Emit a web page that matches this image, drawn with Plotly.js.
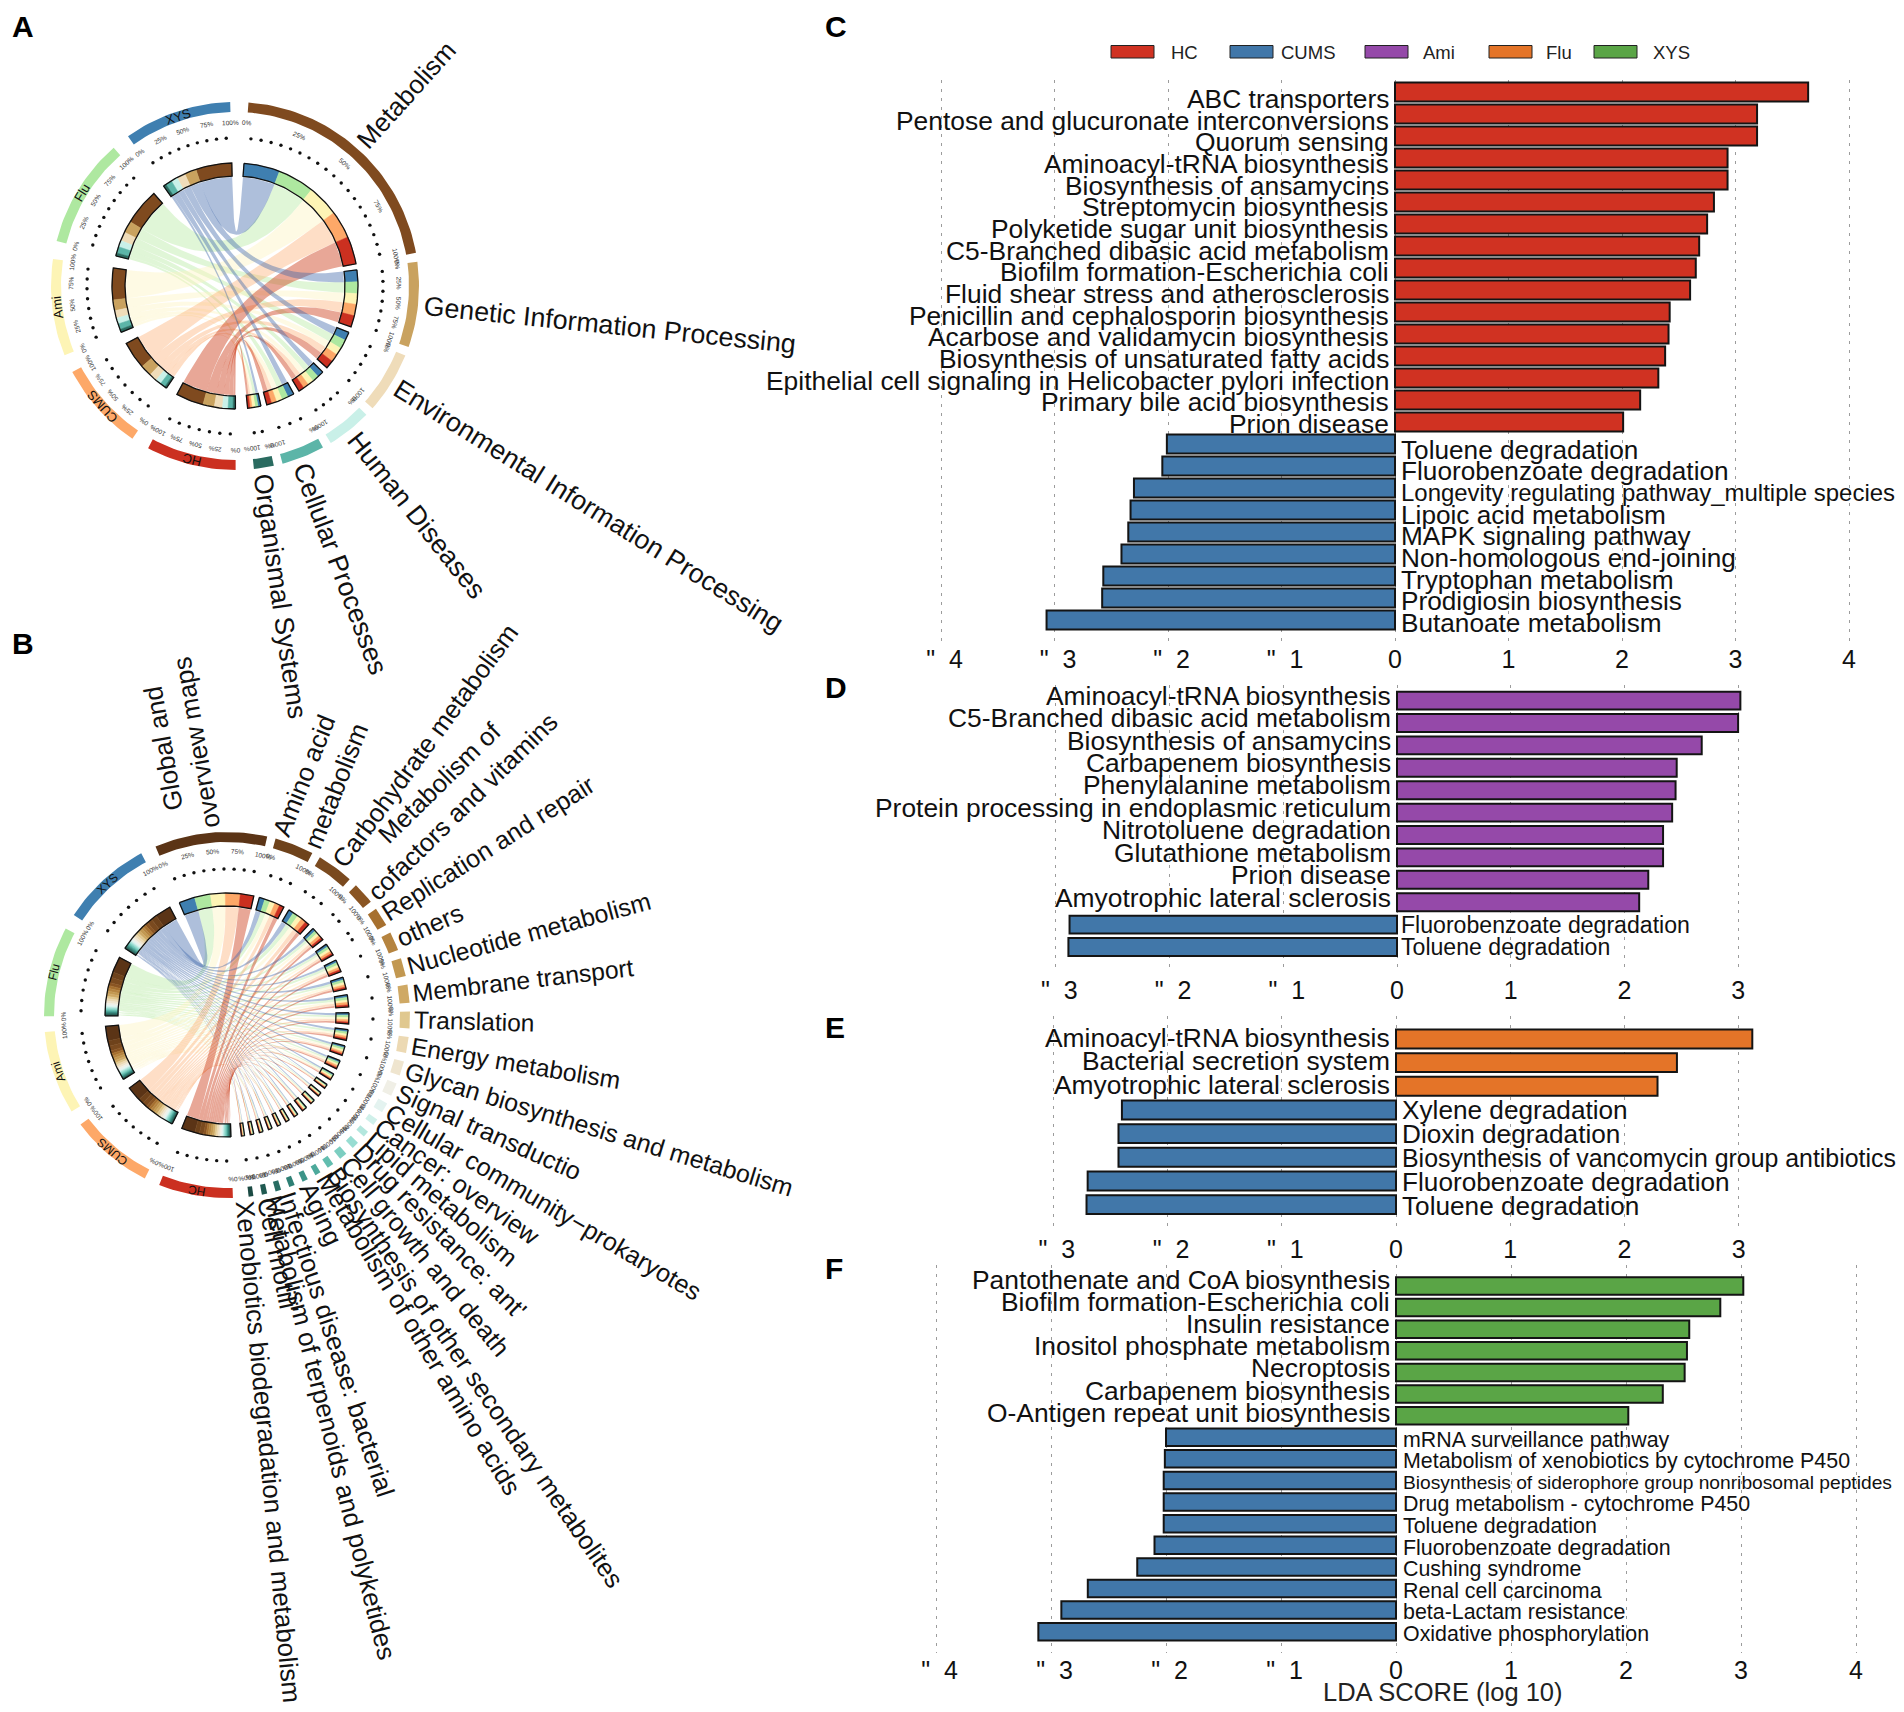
<!DOCTYPE html>
<html><head><meta charset="utf-8">
<script src="https://cdn.plot.ly/plotly-3.0.1.min.js"></script>
<style>html,body{margin:0;padding:0;background:#fff}</style></head>
<body><div id="chart" style="width:1904px;height:1712px"></div>
<script>
const W = 1904, H = 1712;
const FONT = '"Liberation Sans", Arial, sans-serif';

// ---------- group names & colours
const groupNames = ['XYS', 'Flu', 'Ami', 'CUMS', 'HC'];
const groupColors = ['#3f7fb0', '#aee8a0', '#fdf4b5', '#fda868', '#cb3020'];
const chordColors = ['rgba(63,102,170,0.42)', 'rgba(174,232,150,0.38)', 'rgba(253,244,190,0.42)', 'rgba(253,168,104,0.38)', 'rgba(203,60,25,0.45)'];
const legendNames = ['HC', 'CUMS', 'Ami', 'Flu', 'XYS'];
const legendColors = ['#d03222', '#4177a9', '#9549a9', '#e47428', '#5aa546'];

// ---------- panel A
const pathwaysA = ['Metabolism', 'Genetic Information Processing', 'Environmental Information Processing', 'Human Diseases', 'Cellular Processes', 'Organismal Systems'];
const pathColorsA = ['#7f4a1f', '#c9a25f', '#efdcb9', '#c9f0e8', '#5cb5a8', '#2a6b60'];
const matrixA = [
  [16.8, 17, 14.8, 12.9, 12.9],
  [5.5, 5.5, 5, 5.3, 5.3],
  [4, 4.2, 3.5, 3.7, 3.8],
  [3, 3, 2.8, 2.6, 2.6],
  [3, 3, 2.7, 2.4, 2.3],
  [1.3, 1.4, 1.4, 1.0, 1.1]
];

// ---------- panel B
const pathwaysB = ['Global and<br>overview maps', 'Amino acid<br>metabolism', 'Carbohydrate metabolism', 'Metabolism of<br>cofactors and vitamins', 'Replication and repair', 'others', 'Nucleotide metabolism', 'Membrane transport', 'Translation', 'Energy metabolism', 'Glycan biosynthesis and metabolism', 'Signal transductio', 'Cellular community\u2212prokaryotes', 'Cancer: overview', 'Lipid metabolism', "Drug resistance: ant'", 'Cell growth and death', 'Biosynthesis of other secondary metabolites', 'Metabolism of other amino acids', 'Aging', 'Infectious disease: bacterial', 'Metabolism of terpenoids and polyketides', "Cell motili'", 'Xenobiotics biodegradation and metabolism'];
const pathColorsB = ['#5b3416', '#6e421b', '#7a4a1f', '#8a5523', '#a6702f', '#b58440', '#c29851', '#cfa965', '#e0c88f', '#ecd9b3', '#efe5cf', '#f0efe6', '#e4f3f0', '#d0f0ea', '#b4e7de', '#98ddd2', '#7ccec1', '#62bdaf', '#4da99b', '#3b9488', '#2e7f74', '#276c62', '#205a51', '#1b4a43'];
const matrixB = [
  [7.6, 7.6, 7.0, 7.1, 6.4], [2.7, 2.6, 2.5, 2.4, 2.2], [2.5, 2.5, 2.3, 2.3, 2.0], [1.5, 1.5, 1.4, 1.4, 1.2],
  [1.3, 1.3, 1.2, 1.2, 1.0], [1.2, 1.3, 1.2, 1.2, 1.1], [1.3, 1.2, 1.2, 1.1, 1.0], [1.2, 1.3, 1.1, 1.2, 1.0],
  [1.2, 1.1, 1.0, 1.1, 0.9], [1.1, 1.1, 1.0, 1.0, 0.9], [1.0, 1.0, 0.9, 0.9, 0.8], [0.9, 0.9, 0.8, 0.9, 0.7],
  [0.7, 0.7, 0.7, 0.6, 0.5], [0.5, 0.4, 0.4, 0.4, 0.4], [0.4, 0.4, 0.4, 0.4, 0.4], [0.5, 0.5, 0.5, 0.4, 0.4],
  [0.5, 0.5, 0.5, 0.5, 0.5], [0.5, 0.4, 0.4, 0.4, 0.4], [0.4, 0.4, 0.4, 0.3, 0.3], [0.4, 0.4, 0.3, 0.4, 0.3],
  [0.4, 0.4, 0.4, 0.3, 0.3], [0.4, 0.4, 0.3, 0.4, 0.3], [0.4, 0.4, 0.3, 0.3, 0.3], [0.3, 0.3, 0.3, 0.3, 0.3]
];

// ---------- panel C
const hcNamesC = ['ABC transporters', 'Pentose and glucuronate interconversions', 'Quorum sensing', 'Aminoacyl-tRNA biosynthesis', 'Biosynthesis of ansamycins', 'Streptomycin biosynthesis', 'Polyketide sugar unit biosynthesis', 'C5-Branched dibasic acid metabolism', 'Biofilm formation-Escherichia coli', 'Fluid shear stress and atherosclerosis', 'Penicillin and cephalosporin biosynthesis', 'Acarbose and validamycin biosynthesis', 'Biosynthesis of unsaturated fatty acids', 'Epithelial cell signaling in Helicobacter pylori infection', 'Primary bile acid biosynthesis', 'Prion disease'];
const hcScoresC = [3.64, 3.19, 3.19, 2.93, 2.93, 2.81, 2.75, 2.68, 2.65, 2.60, 2.42, 2.41, 2.38, 2.32, 2.16, 2.01];
const cumsNamesC = ['Toluene degradation', 'Fluorobenzoate degradation', 'Longevity regulating pathway_multiple species', 'Lipoic acid metabolism', 'MAPK signaling pathway', 'Non-homologous end-joining', 'Tryptophan metabolism', 'Prodigiosin biosynthesis', 'Butanoate metabolism'];
const cumsScoresC = [-2.01, -2.05, -2.30, -2.33, -2.35, -2.41, -2.57, -2.58, -3.07];
// ---------- panel D
const amiNamesD = ['Aminoacyl-tRNA biosynthesis', 'C5-Branched dibasic acid metabolism', 'Biosynthesis of ansamycins', 'Carbapenem biosynthesis', 'Phenylalanine metabolism', 'Protein processing in endoplasmic reticulum', 'Nitrotoluene degradation', 'Glutathione metabolism', 'Prion disease', 'Amyotrophic lateral sclerosis'];
const amiScoresD = [3.02, 3.00, 2.68, 2.46, 2.45, 2.42, 2.34, 2.34, 2.21, 2.13];
const cumsNamesD = ['Fluorobenzoate degradation', 'Toluene degradation'];
const cumsScoresD = [-2.88, -2.89];
// ---------- panel E
const fluNamesE = ['Aminoacyl-tRNA biosynthesis', 'Bacterial secretion system', 'Amyotrophic lateral sclerosis'];
const fluScoresE = [3.12, 2.46, 2.29];
const cumsNamesE = ['Xylene degradation', 'Dioxin degradation', 'Biosynthesis of vancomycin group antibiotics', 'Fluorobenzoate degradation', 'Toluene degradation'];
const cumsScoresE = [-2.40, -2.43, -2.43, -2.70, -2.71];
// ---------- panel F
const xysNamesF = ['Pantothenate and CoA biosynthesis', 'Biofilm formation-Escherichia coli', 'Insulin resistance', 'Inositol phosphate metabolism', 'Necroptosis', 'Carbapenem biosynthesis', 'O-Antigen repeat unit biosynthesis'];
const xysScoresF = [3.02, 2.82, 2.55, 2.53, 2.51, 2.32, 2.02];
const cumsNamesF = ['mRNA surveillance pathway', 'Metabolism of xenobiotics by cytochrome P450', 'Biosynthesis of siderophore group nonribosomal peptides', 'Drug metabolism - cytochrome P450', 'Toluene degradation', 'Fluorobenzoate degradation', 'Cushing syndrome', 'Renal cell carcinoma', 'beta-Lactam resistance', 'Oxidative phosphorylation'];
const cumsScoresF = [-2.00, -2.01, -2.02, -2.02, -2.02, -2.10, -2.25, -2.68, -2.91, -3.11];

const ticks4 = [-4, -3, -2, -1, 0, 1, 2, 3, 4];
const ticks3 = [-3, -2, -1, 0, 1, 2, 3];
const tickText = v => v < 0 ? '\u00a0"\u00a0\u00a0' + (-v) : String(v);
const fitWidths = {
  'Longevity regulating pathway_multiple species': 494,
  'Biosynthesis of vancomycin group antibiotics': 494,
  'Biosynthesis of siderophore group nonribosomal peptides': 489
};

const traces = [], annotations = [], shapes = [];
const layout = {
  width: W, height: H, margin: {l: 0, r: 0, t: 0, b: 0}, paper_bgcolor: '#fff', plot_bgcolor: 'rgba(0,0,0,0)',
  showlegend: false, barmode: 'overlay', font: {family: FONT, color: '#111'}, hovermode: false
};

function xDom(a, b) { return [a / W, b / W]; }
function yDom(t, b) { return [1 - b / H, 1 - t / H]; }

const ctx = document.createElement('canvas').getContext('2d');
function textWidth(t, size) {
  ctx.font = size + 'px "Liberation Sans"';
  return Math.max.apply(null, t.split('<br>').map(s => ctx.measureText(s).width));
}

// ---------- bar panels
function barPanel(id, o) {
  const sfx = id === 1 ? '' : String(id);
  const cats = o.posNames.concat(o.negNames);
  const n = cats.length, np = o.posNames.length, nn = o.negNames.length;
  const half = o.half;
  layout['xaxis' + sfx] = {
    anchor: 'y' + sfx, domain: xDom(o.zero - half * o.unit, o.zero + half * o.unit), range: [-half, half], fixedrange: true,
    tickmode: 'array', tickvals: o.ticks, ticktext: o.ticks.map(tickText), tickfont: {size: 25, family: FONT, color: '#111'},
    showgrid: true, gridcolor: '#9c9c9c', griddash: '3px,6px', gridwidth: 1, zeroline: false, showline: false, ticks: ''
  };
  const c0 = o.first, s = (o.last - o.first) / (n - 1);
  layout['yaxis' + sfx] = {
    anchor: 'x' + sfx, domain: yDom(o.top, o.bottom), type: 'category', categoryorder: 'array', categoryarray: cats,
    range: [(o.bottom - c0) / s, (o.top - c0) / s], visible: false, fixedrange: true
  };
  traces.push({type: 'bar', orientation: 'h', x: o.posScores, y: o.posNames, width: o.barw, xaxis: 'x' + sfx, yaxis: 'y' + sfx,
    marker: {color: o.color, line: {color: '#141414', width: 2}}, hoverinfo: 'skip'});
  traces.push({type: 'bar', orientation: 'h', x: o.negScores, y: o.negNames, width: o.barw, xaxis: 'x' + sfx, yaxis: 'y' + sfx,
    marker: {color: '#4177a9', line: {color: '#141414', width: 2}}, hoverinfo: 'skip'});
  cats.forEach((c, i) => {
    const isPos = i < np;
    const rng = isPos ? o.posShift : o.negShift;
    const t = isPos ? i / (np - 1) : (i - np) / (nn - 1);
    const shift = rng[0] + (rng[1] - rng[0]) * t;
    let size = isPos ? o.fontL : o.fontR;
    if (!isPos && fitWidths[c]) size = size * fitWidths[c] / textWidth(c, size);
    annotations.push({
      xref: 'x' + sfx, yref: 'y' + sfx, x: 0, y: c, text: c, showarrow: false, borderpad: 0,
      xanchor: isPos ? 'right' : 'left', xshift: isPos ? -5 : o.rightShift, yshift: -shift, yanchor: 'middle',
      font: {size: size, family: FONT, color: '#111'}
    });
  });
}
barPanel(1, {zero: 1395, unit: 113.5, half: 4.25, ticks: ticks4, top: 80, bottom: 642, first: 92, last: 620, barw: 0.86, rightShift: 5,
  posNames: hcNamesC, posScores: hcScoresC, negNames: cumsNamesC, negScores: cumsScoresC, color: '#d03222', fontL: 26.4, fontR: 26.2, posShift: [7, 2], negShift: [5.5, 3]});
barPanel(2, {zero: 1397, unit: 113.7, half: 3.2, ticks: ticks3, top: 685, bottom: 973, first: 700.6, last: 947, barw: 0.8, rightShift: 3,
  posNames: amiNamesD, posScores: amiScoresD, negNames: cumsNamesD, negScores: cumsScoresD, color: '#9549a9', fontL: 26.4, fontR: 23.1, posShift: [-5, -4.5], negShift: [0.8, 0]});
barPanel(3, {zero: 1396, unit: 114.2, half: 3.2, ticks: ticks3, top: 1016, bottom: 1232, first: 1039, last: 1204.6, barw: 0.8, rightShift: 5,
  posNames: fluNamesE, posScores: fluScoresE, negNames: cumsNamesE, negScores: cumsScoresE, color: '#e47428', fontL: 26.4, fontR: 26.2, posShift: [-1, -1.5], negShift: [0.5, 1]});
barPanel(4, {zero: 1396, unit: 115, half: 4.2, ticks: ticks4, top: 1265, bottom: 1653, first: 1286, last: 1631.7, barw: 0.81, rightShift: 6,
  posNames: xysNamesF, posScores: xysScoresF, negNames: cumsNamesF, negScores: cumsScoresF, color: '#5aa546', fontL: 26.4, fontR: 21.4, posShift: [-6, -3], negShift: [2.5, 2]});

annotations.push({xref: 'paper', yref: 'paper', x: 1443 / W, y: 1 - 1692 / H, text: 'LDA SCORE (log 10)', showarrow: false,
  xanchor: 'center', yanchor: 'middle', font: {size: 25.5, family: FONT, color: '#222'}});

// ---------- legend
const legendBoxX = [1111, 1230, 1365, 1489, 1594];
const legendTextX = [1169, 1279, 1421, 1544, 1651];
legendNames.forEach((nm, i) => {
  shapes.push({type: 'rect', xref: 'paper', yref: 'paper', x0: legendBoxX[i] / W, x1: (legendBoxX[i] + 43) / W, y0: 1 - 58 / H, y1: 1 - 45.5 / H,
    fillcolor: legendColors[i], line: {color: '#222', width: 1}});
  annotations.push({xref: 'paper', yref: 'paper', x: legendTextX[i] / W, y: 1 - 52 / H, text: nm, showarrow: false, xanchor: 'left', yanchor: 'middle',
    font: {size: 18.5, family: FONT, color: '#222'}});
});

// ---------- panel letters
[['A', 10, 27], ['B', 10, 644], ['C', 823, 27], ['D', 823, 688], ['E', 823, 1027], ['F', 823, 1268]].forEach(p => {
  annotations.push({xref: 'paper', yref: 'paper', x: p[1] / W, y: 1 - p[2] / H, text: '<b>' + p[0] + '</b>', showarrow: false, xanchor: 'left', yanchor: 'middle',
    font: {size: 30, family: FONT, color: '#000'}});
});

// ---------- chord panels
const rad = d => d * Math.PI / 180;
const polar = (r, th) => [r * Math.sin(rad(th)), r * Math.cos(rad(th))];
function arc(r, a, b) {
  const n = Math.max(2, Math.ceil(Math.abs(b - a) / 1.5) + 1), pts = [];
  for (let i = 0; i < n; i++) pts.push(polar(r, a + (b - a) * i / (n - 1)));
  return pts;
}
function bez(p0, p2, n) {
  const pts = [];
  for (let i = 1; i < n; i++) {
    const t = i / n, u = 1 - t;
    pts.push([u * u * p0[0] + t * t * p2[0], u * u * p0[1] + t * t * p2[1]]);
  }
  return pts;
}
function normAngle(a) { a = ((a % 360) + 360) % 360; return a > 180 ? a - 360 : a; }

function circos(sfx, o) {
  const {cx, cy, paths, pathColors, matrix, start, gapS, gapL} = o;
  layout['xaxis' + sfx] = {domain: xDom(cx - 200, cx + 200), range: [-200, 200], visible: false, fixedrange: true, anchor: 'y' + sfx};
  layout['yaxis' + sfx] = {domain: yDom(cy - 200, cy + 200), range: [-200, 200], visible: false, fixedrange: true, anchor: 'x' + sfx};
  const np = paths.length, ng = groupNames.length;
  const pathTot = matrix.map(r => r.reduce((a, b) => a + b, 0));
  const groupTot = groupNames.map((_, j) => matrix.reduce((a, r) => a + r[j], 0));
  const total = pathTot.reduce((a, b) => a + b, 0) + groupTot.reduce((a, b) => a + b, 0);
  const k = (360 - ((np - 1) * gapS + 6 * gapL)) / total;
  const add = (pts, col, lw) => traces.push({
    type: 'scatter', mode: 'lines', x: pts.map(p => p[0]), y: pts.map(p => p[1]), xaxis: 'x' + sfx, yaxis: 'y' + sfx,
    fill: 'toself', fillcolor: col, line: {width: lw || 0, color: col}, hoverinfo: 'skip'});

  const sectors = [], pathSeg = [], groupSeg = matrix.map(() => []);
  let th = start;
  paths.forEach((nm, i) => {
    const s = th; pathSeg[i] = [];
    matrix[i].forEach((v, j) => { pathSeg[i][j] = [th, th + v * k]; th += v * k; });
    sectors.push({label: nm, color: pathColors[i], a: s, b: th, kind: 'path'});
    th += i < np - 1 ? gapS : gapL;
  });
  for (let j = ng - 1; j >= 0; j--) {
    const s = th;
    for (let i = np - 1; i >= 0; i--) { groupSeg[i][j] = [th, th + matrix[i][j] * k]; th += matrix[i][j] * k; }
    sectors.push({label: groupNames[j], color: groupColors[j], a: s, b: th, kind: 'group'});
    th += gapL;
  }

  // chords
  const Rc = o.rIn - 1;
  [1, 2, 3, 4, 0].forEach(j => {
    for (let i = 0; i < np; i++) {
      const A = pathSeg[i][j], G = groupSeg[i][j];
      const a1 = arc(Rc, A[0], A[1]), g1 = arc(Rc, G[0], G[1]);
      const pts = a1.concat(bez(a1[a1.length - 1], g1[0], 24), g1, bez(g1[g1.length - 1], a1[0], 24));
      pts.push(a1[0]);
      add(pts, chordColors[j]);
    }
  });
  // inner ring cells
  const cell = (a, b, r0, r1) => { const p = arc(r1, a, b).concat(arc(r0, b, a)); p.push(p[0]); return p; };
  for (let i = 0; i < np; i++) for (let j = 0; j < ng; j++) {
    add(cell(pathSeg[i][j][0], pathSeg[i][j][1], o.rIn, o.rIn + o.thick), groupColors[j], 0.5);
    add(cell(groupSeg[i][j][0], groupSeg[i][j][1], o.rIn, o.rIn + o.thick), pathColors[i], 0.5);
  }
  // outlines, outer ring, dots, tick texts, names
  const dotsX = [], dotsY = [];
  sectors.forEach(sec => {
    const pts = cell(sec.a, sec.b, o.rIn, o.rIn + o.thick);
    traces.push({type: 'scatter', mode: 'lines', x: pts.map(p => p[0]), y: pts.map(p => p[1]), xaxis: 'x' + sfx, yaxis: 'y' + sfx,
      line: {color: '#111', width: 1.3}, hoverinfo: 'skip'});
    add(cell(sec.a, sec.b, o.rOut - 10, o.rOut), sec.color);
    const span = sec.b - sec.a;
    const nd = Math.max(1, Math.round(span / 4));
    for (let d = 0; d < nd; d++) { const p = polar(o.rDot, sec.a + span * (d + 0.5) / nd); dotsX.push(p[0]); dotsY.push(p[1]); }
    const fr = span >= o.fiveTickSpan ? [0, 0.25, 0.5, 0.75, 1] : [0, 1];
    fr.forEach(f => {
      const t = sec.a + span * f, p = polar(o.rTick, t);
      annotations.push({xref: 'paper', yref: 'paper', x: (cx + p[0]) / W, y: 1 - (cy - p[1]) / H, text: Math.round(f * 100) + '%', showarrow: false,
        textangle: normAngle(t), xanchor: 'center', yanchor: 'middle', borderpad: 0, font: {size: 6.5, family: FONT, color: '#333'}});
    });
    let mid = (sec.a + sec.b) / 2;
    if (sec.kind === 'group') {
      const p = polar(o.rOut - 5, mid);
      annotations.push({xref: 'paper', yref: 'paper', x: (cx + p[0]) / W, y: 1 - (cy - p[1]) / H, text: sec.label, showarrow: false,
        textangle: normAngle(mid), xanchor: 'center', yanchor: 'middle', borderpad: 0, font: {size: o.groupFont, family: FONT, color: '#111'}});
    } else {
      if (o.labelTheta && o.labelTheta[sec.label] !== undefined) mid = o.labelTheta[sec.label];
      const ang = normAngle(mid - 90);
      const size = (o.labelSize && o.labelSize[sec.label]) || (o.labelBase + o.labelExtra * Math.abs(Math.sin(rad(ang))));
      const w = textWidth(sec.label, size);
      const p = polar(o.rLabel + w / 2, mid);
      annotations.push({xref: 'paper', yref: 'paper', x: (cx + p[0]) / W, y: 1 - (cy - p[1]) / H, text: sec.label, showarrow: false,
        textangle: ang, xanchor: 'center', yanchor: 'middle', borderpad: 0, align: (o.labelLeft && o.labelLeft.indexOf(sec.label) >= 0) ? 'left' : 'center',
        font: {size: size, family: FONT, color: '#111'}});
    }
  });
  traces.push({type: 'scatter', mode: 'markers', x: dotsX, y: dotsY, xaxis: 'x' + sfx, yaxis: 'y' + sfx,
    marker: {color: '#111', size: 3.4}, hoverinfo: 'skip'});
}

circos('5', {cx: 235, cy: 286, paths: pathwaysA, pathColors: pathColorsA, matrix: matrixA, start: 4.2, gapS: 2.8, gapL: 5.7,
  rIn: 110, thick: 13, rOut: 184, rDot: 148, rTick: 164, rLabel: 190, fiveTickSpan: 20, groupFont: 13, labelBase: 26.8, labelExtra: 0,
  labelSize: {'Metabolism': 26}, labelTheta: {'Cellular Processes': 159.5, 'Organismal Systems': 171.8}});
circos('6', {cx: 227, cy: 1015, paths: pathwaysB, pathColors: pathColorsB, matrix: matrixB, start: -23, gapS: 2.7, gapL: 4.95,
  rIn: 109, thick: 13, rOut: 183, rDot: 146, rTick: 164, rLabel: 187, fiveTickSpan: 30, groupFont: 12, labelBase: 24.5, labelExtra: 1.5,
  labelLeft: ['Amino acid<br>metabolism'],
  labelTheta: {
    'Global and<br>overview maps': -10,
    'Metabolism of<br>cofactors and vitamins': 45.5,
    'Metabolism of other amino acids': 149,
    'Infectious disease: bacterial': 161.7,
    'Metabolism of terpenoids and polyketides': 166,
    'Xenobiotics biodegradation and metabolism': 174.6
  }});

layout.annotations = annotations;
layout.shapes = shapes;
Plotly.newPlot('chart', traces, layout, {staticPlot: true, displayModeBar: false});
</script></body></html>
